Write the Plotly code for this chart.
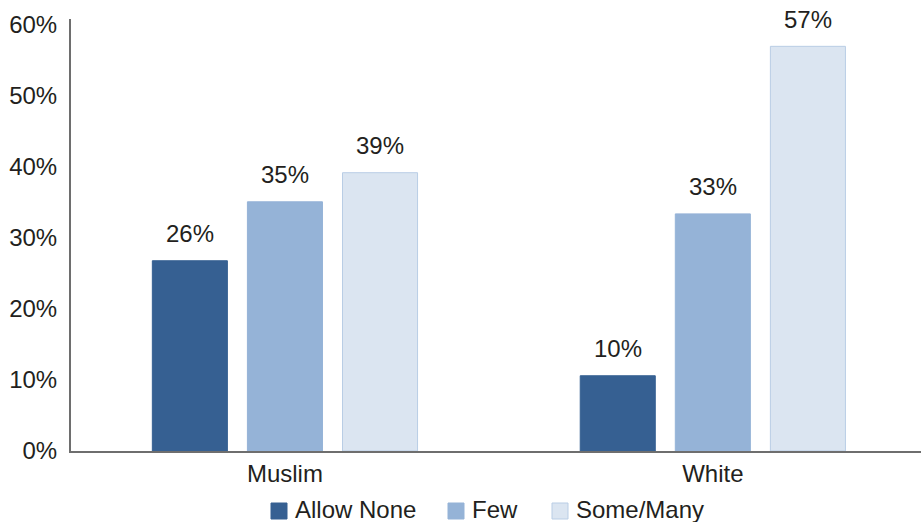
import plotly.graph_objects as go

categories = ["Muslim", "White"]
series_names = ["Allow None", "Few", "Some/Many"]
allow_none = [26.8, 10.6]
few = [35.1, 33.4]
some_many = [39.2, 57.0]
label_allow_none = ["26%", "10%"]
label_few = ["35%", "33%"]
label_some_many = ["39%", "57%"]
y_tick_vals = [0, 10, 20, 30, 40, 50, 60]
y_tick_text = ["0%", "10%", "20%", "30%", "40%", "50%", "60%"]

colors = ["#366092", "#95B3D7", "#DBE5F1"]
line_colors = ["#366092", "#95B3D7", "#B9CDE5"]

series = [allow_none, few, some_many]
labels = [label_allow_none, label_few, label_some_many]

FONT = "Liberation Sans, Arial, Helvetica, sans-serif"
TXT = "#231F20"
FS = 24

W, H = 921, 522
ML, MR, MT, MB = 71, 0, 19, 71
PW, PH = W - ML - MR, H - MT - MB

slot = 0.2222
bar_w = 0.1754
idx = list(range(len(categories)))

fig = go.Figure()
annotations = []
shapes = []
for i, (name, vals, labs) in enumerate(zip(series_names, series, labels)):
    xs = [k + (i - 1) * slot for k in idx]
    fig.add_trace(go.Bar(
        x=xs, y=vals, width=bar_w, name=name, showlegend=False,
        marker=dict(color=colors[i], line=dict(color=line_colors[i], width=1)),
        hoverinfo="skip",
    ))
    for xv, yv, t in zip(xs, vals, labs):
        annotations.append(dict(
            x=xv, y=yv, xref="x", yref="y", text=t, showarrow=False,
            yanchor="middle", yshift=27, font=dict(family=FONT, size=FS, color=TXT),
        ))

# custom legend (pixel layout converted to paper coords)
legend_px = [271, 448, 552]
sq = 16
leg_cy = 510
for i, name in enumerate(series_names):
    x0 = (legend_px[i] - ML) / PW
    x1 = (legend_px[i] + sq - ML) / PW
    y0 = (H - MB - (leg_cy + 1 + sq / 2)) / PH
    y1 = (H - MB - (leg_cy + 1 - sq / 2)) / PH
    shapes.append(dict(type="rect", xref="paper", yref="paper", x0=x0, x1=x1, y0=y0, y1=y1,
                       fillcolor=colors[i], line=dict(color=line_colors[i], width=1)))
    annotations.append(dict(
        x=(legend_px[i] + sq + 7 - ML) / PW, y=(H - MB - leg_cy) / PH,
        xref="paper", yref="paper", text=name, showarrow=False, borderpad=0,
        xanchor="left", yanchor="middle", font=dict(family=FONT, size=FS, color=TXT),
    ))

fig.update_layout(
    width=W, height=H,
    margin=dict(l=ML, r=MR, t=MT, b=MB, autoexpand=False),
    paper_bgcolor="white", plot_bgcolor="white",
    barmode="overlay",
    showlegend=False,
    annotations=annotations,
    shapes=shapes,
    xaxis=dict(
        range=[-0.5, 1.4865], tickvals=idx, ticktext=categories,
        showgrid=False, zeroline=False, showline=True, linecolor="#6E6E6E", linewidth=2,
        ticks="", tickfont=dict(family=FONT, size=FS, color=TXT),
    ),
    yaxis=dict(
        range=[0, 60.85], tickvals=y_tick_vals, ticktext=y_tick_text,
        showgrid=False, zeroline=False, showline=True, linecolor="#6E6E6E", linewidth=2,
        ticks="", ticklabelstandoff=7, tickfont=dict(family=FONT, size=FS, color=TXT),
    ),
)

fig.write_html("out.html")
